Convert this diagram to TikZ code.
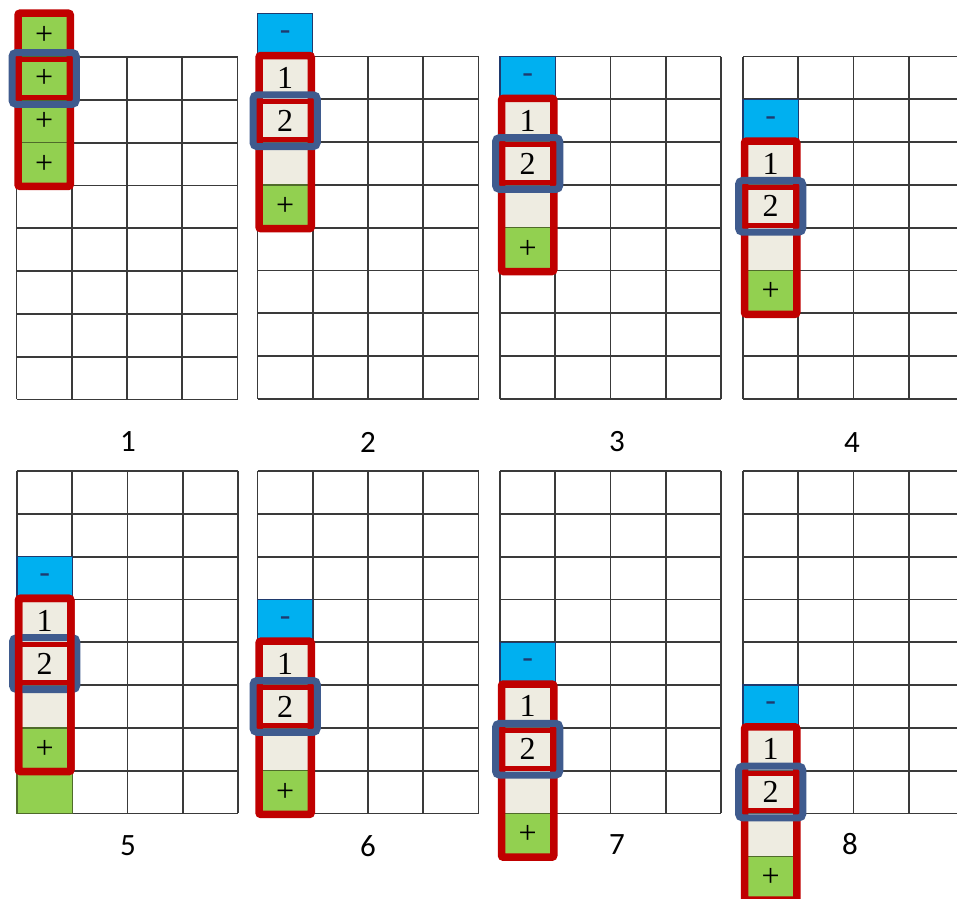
\documentclass[tikz,border=0pt]{standalone}
\usepackage{fontspec}
\setmainfont{Liberation Serif}
\newfontfamily\labfont{Carlito}
\definecolor{cgreen}{HTML}{92D050}
\definecolor{cgreenln}{HTML}{4F6B2A}
\definecolor{cblue}{HTML}{00B0F0}
\definecolor{cnavy}{HTML}{1F3A6E}
\definecolor{ccream}{HTML}{EEECE1}
\definecolor{cred}{HTML}{C00000}
\definecolor{cframe}{HTML}{3F5B8E}
\definecolor{cgrid}{HTML}{3A3A3A}
\tikzset{
  gridline/.style={draw=cgrid, line width=1.8},
  cellbox/.style={anchor=north west, inner sep=0pt, outer sep=0pt,
    minimum width=55.25, minimum height=42.8, line width=1.4,
    font=\fontsize{32}{34}\selectfont},
  greencell/.style={fill=cgreen, draw=cgreenln},
  creamcell/.style={fill=ccream, draw=cgrid!80},
  bluecell/.style={fill=cblue, draw=cnavy, text=cnavy},
  redframe/.style={draw=cred, line width=7.5, rounded corners=2},
  redinner/.style={draw=cred, line width=5},
  blueframe/.style={draw=cframe, line width=7, rounded corners=4},
  lab/.style={font=\labfont\fontsize{31}{33}\selectfont, inner sep=0pt}
}
\newcommand\drawgrid[2]{%
  \foreach \i in {0,...,4} {\draw[gridline] ({#1+\i*55.25},#2) -- ({#1+\i*55.25},{#2+8*42.8});}
  \foreach \j in {0,...,8} {\draw[gridline] (#1,{#2+\j*42.8}) -- ({#1+4*55.25},{#2+\j*42.8});}
}
\newcommand\stage[4]{%
  \drawgrid{#2}{#3}%
  \pgfmathtruncatemacro\rA{#4}%
  \pgfmathtruncatemacro\rB{#4+1}%
  \pgfmathtruncatemacro\rC{#4+2}%
  \pgfmathtruncatemacro\rD{#4+3}%
  \pgfmathtruncatemacro\rE{#4+4}%
  \node[cellbox,bluecell] (#1m) at (#2,{#3+\rA*42.8}) {-};
  \node[cellbox,creamcell] (#1a) at (#2,{#3+\rB*42.8}) {1};
  \node[cellbox,creamcell] (#1b) at (#2,{#3+\rC*42.8}) {2};
  \node[cellbox,creamcell] (#1e) at (#2,{#3+\rD*42.8}) {};
  \node[cellbox,greencell] (#1p) at (#2,{#3+\rE*42.8}) {+};
  \draw[redframe] ([xshift=1.5,yshift=1]#1a.north west) rectangle ([xshift=-1.5,yshift=-1]#1p.south east);
  \draw[redinner] ([xshift=2.5,yshift=-2.5]#1b.north west) rectangle ([xshift=-2.5,yshift=2.5]#1b.south east);
  \draw[blueframe] ([xshift=-4.5,yshift=4.5]#1b.north west) rectangle ([xshift=4.5,yshift=-4.5]#1b.south east);
}
\begin{document}
\begin{tikzpicture}[x=1pt,y=-1pt]
\useasboundingbox (0,0) rectangle (957,898);
\fill[white] (0,0) rectangle (957,898);
\clip (0,0) rectangle (957,898);
% ---- panel 1
\drawgrid{16.5}{57}
\node[cellbox,greencell] (g1a) at (16.5,{57-42.8}) {+};
\node[cellbox,greencell] (g1b) at (16.5,57) {+};
\node[cellbox,greencell] (g1c) at (16.5,{57+42.8}) {+};
\node[cellbox,greencell] (g1d) at (16.5,{57+2*42.8}) {+};
\draw[redframe] ([xshift=1.5,yshift=1]g1a.north west) rectangle ([xshift=-1.5,yshift=-1]g1d.south east);
\draw[redinner] ([xshift=2.5,yshift=-2.5]g1b.north west) rectangle ([xshift=-2.5,yshift=2.5]g1b.south east);
\draw[blueframe] ([xshift=-4.5,yshift=4.5]g1b.north west) rectangle ([xshift=4.5,yshift=-4.5]g1b.south east);
% ---- panels 2-4
\stage{g2}{257.5}{56.5}{-1}
\stage{g3}{500}{56.5}{0}
\stage{g4}{743}{56.5}{1}
% ---- panels 5-8
\stage{g5}{17}{471}{2}
\node[cellbox,greencell] (g5x) at (17,{471+7*42.8}) {};
\draw[redframe] ([xshift=1.5,yshift=1]g5a.north west) rectangle ([xshift=-1.5,yshift=-1]g5p.south east);
\stage{g6}{257.5}{471}{3}
\stage{g7}{500}{471}{4}
\stage{g8}{743}{471}{5}
% ---- labels
\node[lab] (l1) at (128,442) {1};
\node[lab] (l2) at (368,442) {2};
\node[lab] (l3) at (617,442) {3};
\node[lab] (l4) at (852,443) {4};
\node[lab] (l5) at (128,846) {5};
\node[lab] (l6) at (368,846) {6};
\node[lab] (l7) at (617,845) {7};
\node[lab] (l8) at (850,844) {8};
\end{tikzpicture}
\end{document}
